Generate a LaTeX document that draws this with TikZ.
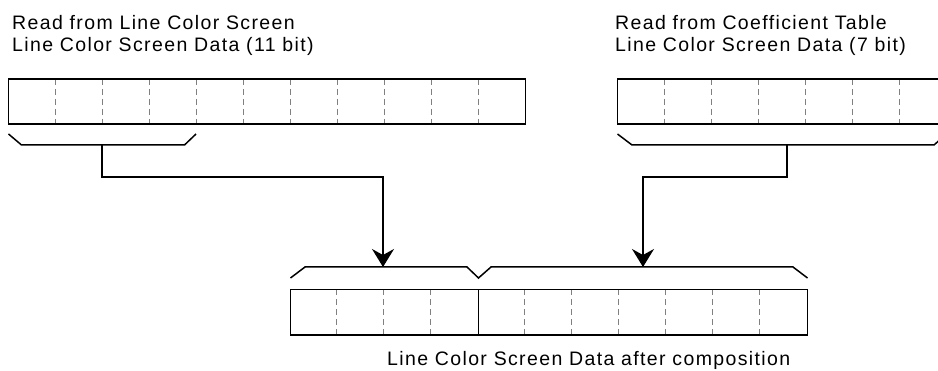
\documentclass[tikz,border=0pt]{standalone}
\usepackage{fontspec}
\setmainfont[LetterSpace=7]{Liberation Sans}
\usetikzlibrary{arrows.meta}
\begin{document}
\begin{tikzpicture}[x=1pt,y=-1pt,
  cellbox/.style={draw,line width=1.8pt,inner sep=0pt,outer sep=0pt,anchor=north west,minimum height=45pt},
  sep/.style={draw=black!50,line width=0.8pt,dash pattern=on 6pt off 4pt},
  brace/.style={draw,line width=1.5pt,line join=miter},
  conn/.style={draw,line width=1.5pt,-{Stealth[length=18pt,width=22pt,inset=6pt]}},
  lbl/.style={anchor=base west,inner sep=0pt,font=\fontsize{19.5pt}{22pt}\selectfont}]
\useasboundingbox (0,0) rectangle (938,371);
\begin{scope}
\clip (0,0) rectangle (938,371);
% texts
\node[lbl] (t1) at (12,30) {Read from Line Color Screen};
\node[lbl] (t2) at (12,52) {Line Color Screen Data (11 bit)};
\node[lbl] (t3) at (615,30) {Read from Coefficient Table};
\node[lbl] (t4) at (615,52) {Line Color Screen Data (7 bit)};
\node[lbl] (t5) at (387,366) {Line Color Screen Data after composition};
% top-left box (11 cells)
\foreach \i in {1,...,10} \draw[sep] (8.5+47*\i,79) -- (8.5+47*\i,124);
\node[cellbox,minimum width=517pt] (boxA) at (8.5,79) {};
% top-right box (7 cells, clipped)
\foreach \i in {1,...,6} \draw[sep] (617.5+47*\i,79) -- (617.5+47*\i,124);
\node[cellbox,minimum width=329pt] (boxB) at (617.5,79) {};
% bottom box
\foreach \x in {336.5,383.5,430.5,524.5,571.5,618.5,665,712,759} \draw[sep] (\x,289.5) -- (\x,335);
\node[cellbox,minimum width=517pt,minimum height=45.5pt] (boxC) at (290.5,289.5) {};
\draw[line width=1.8pt] (boxC.north west) ++(188,0) coordinate (divT) -- (divT |- boxC.south);
% braces under top boxes
\draw[brace] (8.5,134) -- (21.5,145) -- (184.5,145) -- (196,134);
\coordinate (sA) at (102,145);
\draw[brace] (617.5,134) -- (632,145) -- (934,145) -- (946.5,134);
\coordinate (sB) at (787,145);
% braces over bottom box
\draw[brace] (290.5,278) -- (305,267) -- (467,267) -- (478.5,278) -- (491,267) -- (793,267) -- (807.5,278);
\coordinate (eA) at (383,267);
\coordinate (eB) at (643,267);
% connectors
\draw[conn] (sA) -- ++(0,32) -| (eA);
\draw[conn] (sB) -- ++(0,32) -| (eB);
\end{scope}
\end{tikzpicture}
\end{document}
